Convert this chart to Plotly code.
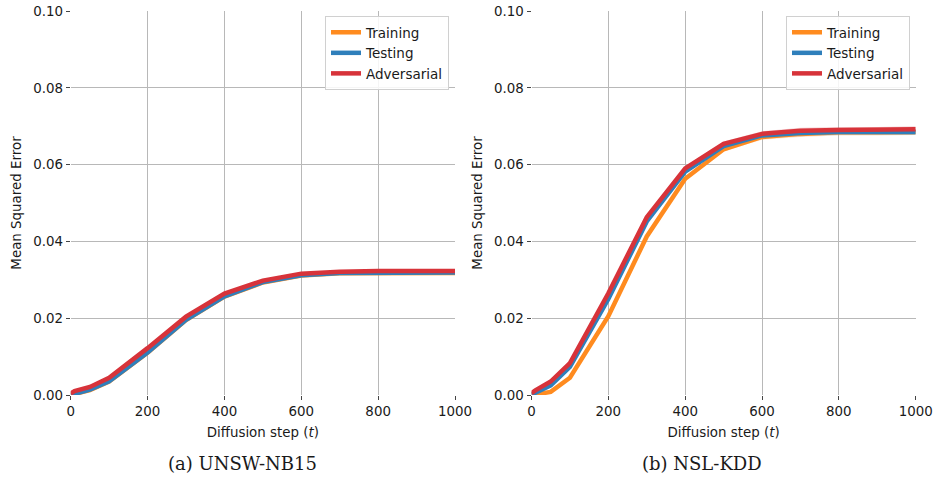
import plotly.graph_objects as go

# Diffusion steps at which the reconstruction error was measured
steps = [0, 10, 50, 100, 200, 300, 400, 500, 600, 700, 800, 900, 1000]

# UNSW-NB15 mean squared error per split
unsw_train = [0.0000, 0.0003, 0.0013, 0.0035, 0.0110, 0.0195, 0.0256, 0.0293, 0.0311, 0.0317, 0.0318, 0.0318, 0.0318]
unsw_test = [0.0000, 0.0003, 0.0014, 0.0036, 0.0111, 0.0196, 0.0257, 0.0294, 0.0312, 0.0318, 0.0319, 0.0319, 0.0319]
unsw_adv = [0.0004, 0.0010, 0.0021, 0.0045, 0.0122, 0.0204, 0.0264, 0.0298, 0.0316, 0.0321, 0.0323, 0.0323, 0.0323]

# NSL-KDD mean squared error per split
nsl_train = [0.0000, 0.0002, 0.0008, 0.0045, 0.0205, 0.0413, 0.0563, 0.0640, 0.0672, 0.0680, 0.0684, 0.0684, 0.0685]
nsl_test = [0.0001, 0.0006, 0.0025, 0.0073, 0.0250, 0.0452, 0.0582, 0.0648, 0.0676, 0.0682, 0.0685, 0.0685, 0.0685]
nsl_adv = [0.0005, 0.0012, 0.0035, 0.0083, 0.0265, 0.0463, 0.0590, 0.0654, 0.0680, 0.0688, 0.0690, 0.0690, 0.0692]

# Standard deviation across runs (shaded band)
unsw_std = [0.0001, 0.0001, 0.0002, 0.0002, 0.0003, 0.0003, 0.0003, 0.0003, 0.0003, 0.0003, 0.0003, 0.0003, 0.0003]
nsl_std = [0.0001, 0.0002, 0.0003, 0.0003, 0.0004, 0.0004, 0.0005, 0.0006, 0.0007, 0.0008, 0.0008, 0.0008, 0.0008]

series_names = ["Training", "Testing", "Adversarial"]
colors = ["#ff8b1f", "#2f7fbb", "#d7333a"]
bands = ["rgba(255,139,31,0.22)", "rgba(47,127,187,0.22)", "rgba(215,51,58,0.22)"]

x_ticks = [0, 200, 400, 600, 800, 1000]
y_ticks = [0.00, 0.02, 0.04, 0.06, 0.08, 0.10]
captions = ["(a) UNSW-NB15", "(b) NSL-KDD"]

fig = go.Figure()

panels = [
    ([unsw_train, unsw_test, unsw_adv], unsw_std, "x", "y", "legend"),
    ([nsl_train, nsl_test, nsl_adv], nsl_std, "x2", "y2", "legend2"),
]

for data, std, xa, ya, leg in panels:
    for name, vals, col, band in zip(series_names, data, colors, bands):
        upper = [v + s for v, s in zip(vals, std)]
        lower = [v - s for v, s in zip(vals, std)]
        fig.add_trace(go.Scatter(x=steps, y=upper, mode="lines", line=dict(width=0),
                                 showlegend=False, hoverinfo="skip", xaxis=xa, yaxis=ya))
        fig.add_trace(go.Scatter(x=steps, y=lower, mode="lines", line=dict(width=0),
                                 fill="tonexty", fillcolor=band, showlegend=False,
                                 hoverinfo="skip", xaxis=xa, yaxis=ya))
    for name, vals, col in zip(series_names, data, colors):
        fig.add_trace(go.Scatter(x=steps, y=vals, mode="lines", name=name,
                                 line=dict(color=col, width=4.5), xaxis=xa, yaxis=ya,
                                 legend=leg))

tick_font = dict(family="DejaVu Sans", size=13.4, color="#1a1a1a")
axis_common = dict(
    showgrid=True, gridcolor="#b8b8b8", gridwidth=1, zeroline=False,
    showline=False, ticks="outside", ticklen=4, tickcolor="#444444",
    tickfont=tick_font, automargin=False,
)

W, H = 935, 479
y_dom = [(H - 395) / H, (H - 11) / H]
x_dom1 = [70.7 / W, 455.0 / W]
x_dom2 = [531.5 / W, 915.7 / W]

xt = dict(text="Diffusion step (<i>t</i>)", font=tick_font, standoff=9)
yt = dict(text="Mean Squared Error", font=tick_font, standoff=8)

legend_common = dict(
    xanchor="right", yanchor="top", traceorder="normal",
    bgcolor="rgba(255,255,255,0.85)", bordercolor="#d0d0d0", borderwidth=1,
    font=dict(family="DejaVu Sans", size=13.5, color="#1a1a1a"), tracegroupgap=0,
)

fig.update_layout(
    width=W, height=H,
    margin=dict(l=0, r=0, t=0, b=0),
    paper_bgcolor="white", plot_bgcolor="white",
    xaxis=dict(domain=x_dom1, range=[0, 1000], tickvals=x_ticks, anchor="y", title=xt, **axis_common),
    yaxis=dict(domain=y_dom, range=[0, 0.1], tickvals=y_ticks, tickformat=".2f", anchor="x", title=yt, **axis_common),
    xaxis2=dict(domain=x_dom2, range=[0, 1000], tickvals=x_ticks, anchor="y2", title=xt, **axis_common),
    yaxis2=dict(domain=y_dom, range=[0, 0.1], tickvals=y_ticks, tickformat=".2f", anchor="x2", title=yt, **axis_common),
    legend=dict(x=449 / W, y=(H - 16) / H, **legend_common),
    legend2=dict(x=910 / W, y=(H - 16) / H, **legend_common),
    showlegend=True,
)

for cap, cx in zip(captions, [242, 702]):
    fig.add_annotation(text=cap, x=cx / W, y=(H - 463) / H, xref="paper", yref="paper",
                       xanchor="center", yanchor="middle", showarrow=False,
                       font=dict(family="DejaVu Serif", size=18, color="#1a1a1a"))

fig.write_html("out.html")
